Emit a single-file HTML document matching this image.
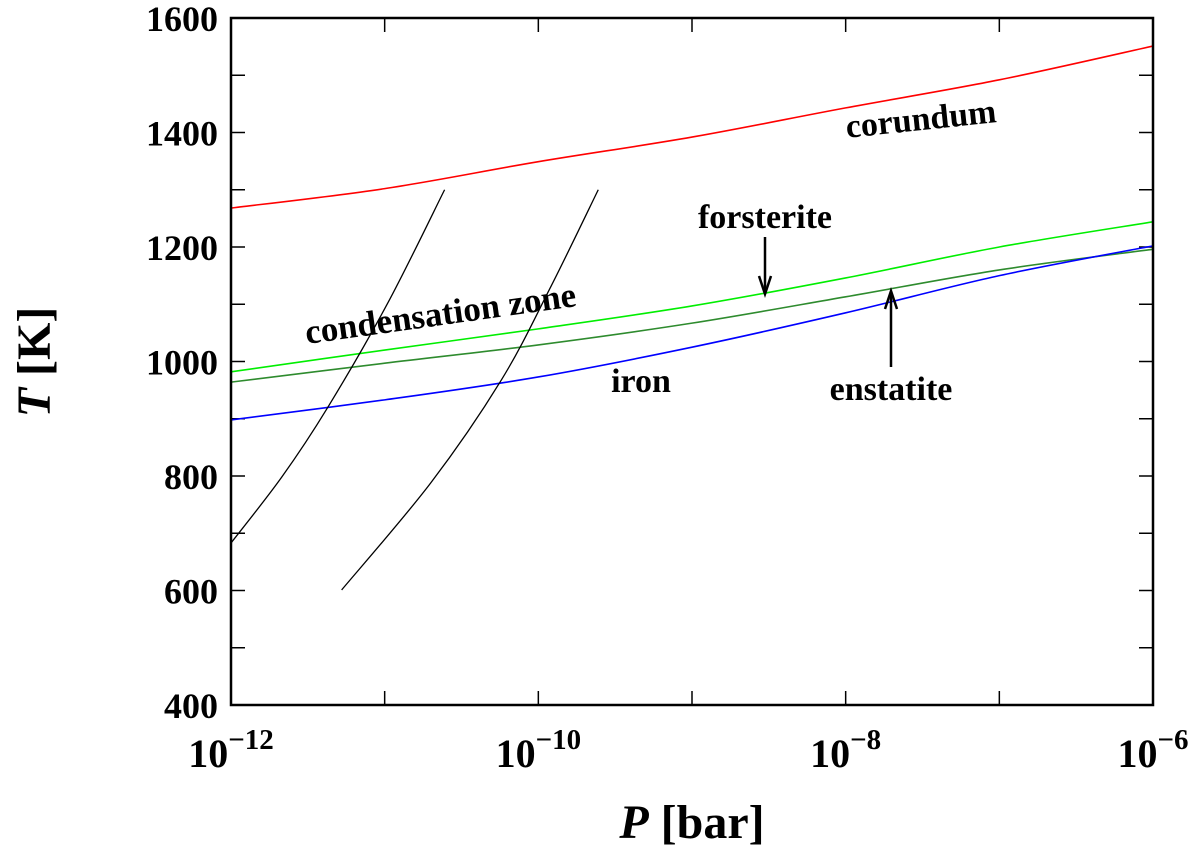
<!DOCTYPE html>
<html><head><meta charset="utf-8"><style>
body{margin:0;background:#fff}
svg text{font-family:"Liberation Serif",serif;font-weight:bold;fill:#000}
</style></head><body>
<svg id="chart" width="1200" height="847" xmlns="http://www.w3.org/2000/svg">
<g id="grid"></g>
<g id="series"></g>
<rect x="231" y="18" width="922" height="687" fill="none" stroke="#000" stroke-width="2.5"/>
<text transform="translate(50,362) rotate(-90)" text-anchor="middle" font-size="48"><tspan font-style="italic">T</tspan> [K]</text>
<text x="692" y="838" text-anchor="middle" font-size="48"><tspan font-style="italic">P</tspan> [bar]</text>
<text transform="translate(922,130) rotate(-6)" text-anchor="middle" font-size="34">corundum</text>
<text x="765" y="228" text-anchor="middle" font-size="34">forsterite</text>
<text x="891" y="400" text-anchor="middle" font-size="34">enstatite</text>
<text x="641" y="392" text-anchor="middle" font-size="34">iron</text>
<text transform="translate(442,325) rotate(-8)" text-anchor="middle" font-size="35">condensation zone</text>
<g stroke="#000" stroke-width="2.5" fill="none">
<line x1="765" y1="237" x2="765" y2="292"/><polyline points="759,276 765,294 771,276"/></g>
<g stroke="#000" stroke-width="2.5" fill="none">
<line x1="891" y1="367" x2="891" y2="293"/><polyline points="885,309 891,291 897,309"/></g>
</svg>
<script>
const logP = [-12,-11,-10,-9,-8,-7,-6];
const corundum = [1268,1302,1349,1392,1443,1492,1551];
const forsterite = [982,1020,1057,1097,1146,1200,1244];
const enstatite = [964,997,1029,1067,1113,1160,1196];
const iron = [898,933,973,1025,1085,1150,1202];
const zone1P = [-12,-11.67,-11.37,-10.98,-10.61];
const zone1T = [683,798,920,1102,1300];
const zone2P = [-11.28,-10.70,-10.24,-9.92,-9.61];
const zone2T = [601,788,968,1130,1300];
const yTicks = [400,600,800,1000,1200,1400,1600];
const xTicks = [-12,-10,-8,-6];

const X0=231,X1=1153,Y0=705,Y1=18;
const sx=p=>X0+(p+12)/6*(X1-X0);
const sy=t=>Y0-(t-400)/1200*(Y0-Y1);
const NS="http://www.w3.org/2000/svg";
const grid=document.getElementById('grid'), ser=document.getElementById('series');
function mk(tag,attrs,parent){const e=document.createElementNS(NS,tag);for(const k in attrs)e.setAttribute(k,attrs[k]);parent.appendChild(e);return e;}
for(let t=400;t<=1600;t+=100){
  const y=sy(t), len=14;
  const a=mk('line',{x1:X0,x2:X0+len,y1:y,y2:y,stroke:'#000','stroke-width':1.5},grid);
  
  
  const b=mk('line',{x1:X1-len,x2:X1,y1:y,y2:y,stroke:'#000','stroke-width':1.5},grid);
  
  
}
yTicks.forEach(t=>{
  const e=mk('text',{x:X0-13,y:sy(t)+13,'text-anchor':'end','font-size':36},grid);
  e.textContent=t;
  
  
});
for(let p=-12;p<=-6;p++){
  const x=sx(p);
  const a=mk('line',{x1:x,x2:x,y1:Y0,y2:Y0-14,stroke:'#000','stroke-width':1.5},grid);
  
  
  const b=mk('line',{x1:x,x2:x,y1:Y1,y2:Y1+14,stroke:'#000','stroke-width':1.5},grid);
  
  
}
xTicks.forEach(p=>{
  const e=mk('text',{x:sx(p),y:767,'text-anchor':'middle','font-size':40},grid);
  
  
  e.appendChild(document.createTextNode('10'));
  const s=mk('tspan',{dy:-18,'font-size':29},e); s.textContent='\u2212'+(-p);
});
function curve(ps,ts,color,name,w){
  const pts=ps.map((p,i)=>[sx(p),sy(ts[i])]);
  let d='M'+pts[0][0]+','+pts[0][1];
  for(let i=0;i<pts.length-1;i++){
    const p0=pts[Math.max(0,i-1)],p1=pts[i],p2=pts[i+1],p3=pts[Math.min(pts.length-1,i+2)];
    const c1=[p1[0]+(p2[0]-p0[0])/6,p1[1]+(p2[1]-p0[1])/6];
    const c2=[p2[0]-(p3[0]-p1[0])/6,p2[1]-(p3[1]-p1[1])/6];
    d+=` C${c1[0]},${c1[1]} ${c2[0]},${c2[1]} ${p2[0]},${p2[1]}`;
  }
  const e=mk('path',{d:d,fill:'none',stroke:color,'stroke-width':w||1.6},ser);
  
  
}
curve(logP,corundum,'#ff0000','corundum-curve');
curve(logP,forsterite,'#00ee00','forsterite-curve');
curve(logP,enstatite,'#2e8b2e','enstatite-curve');
curve(logP,iron,'#0000ff','iron-curve');
curve(zone1P,zone1T,'#000','condensation-boundary-left',1.3);
curve(zone2P,zone2T,'#000','condensation-boundary-right',1.3);
</script>
</body></html>
